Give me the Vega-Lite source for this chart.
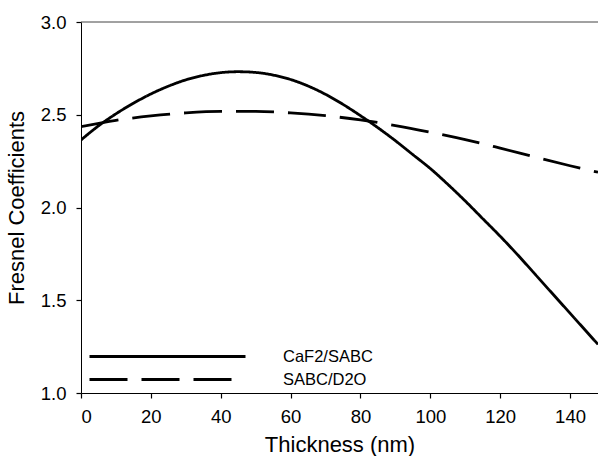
{
  "$schema": "https://vega.github.io/schema/vega-lite/v6.json",
  "width": 517,
  "height": 371,
  "autosize": {"type": "none"},
  "padding": {"left": 81, "top": 22, "right": 0, "bottom": 63},
  "config": {
    "font": "Liberation Sans",
    "view": {"stroke": null},
    "axis": {
      "grid": false,
      "ticks": true,
      "domainColor": "#000000",
      "domainWidth": 1,
      "tickColor": "#000000",
      "tickSize": 5,
      "tickWidth": 1.2,
      "labelColor": "#000000",
      "titleColor": "#000000",
      "labelFontSize": 18.5,
      "titleFontSize": 22,
      "titleFontWeight": "normal",
      "labelFont": "Liberation Sans",
      "titleFont": "Liberation Sans"
    }
  },
  "layer": [
    {
      "data": {"values": [{"top": 3.0}]},
      "mark": {"type": "rule", "color": "#444444", "strokeWidth": 1},
      "encoding": {"y": {"field": "top", "type": "quantitative", "scale": {"domain": [1, 3]}}}
    },
    {
      "data": {
        "values": [
          {"thickness": 0, "fresnel": 2.364, "series": "CaF2/SABC"},
          {"thickness": 5, "fresnel": 2.44, "series": "CaF2/SABC"},
          {"thickness": 10, "fresnel": 2.505, "series": "CaF2/SABC"},
          {"thickness": 15, "fresnel": 2.562, "series": "CaF2/SABC"},
          {"thickness": 20, "fresnel": 2.612, "series": "CaF2/SABC"},
          {"thickness": 25, "fresnel": 2.654, "series": "CaF2/SABC"},
          {"thickness": 30, "fresnel": 2.688, "series": "CaF2/SABC"},
          {"thickness": 35, "fresnel": 2.712, "series": "CaF2/SABC"},
          {"thickness": 40, "fresnel": 2.727, "series": "CaF2/SABC"},
          {"thickness": 45, "fresnel": 2.732, "series": "CaF2/SABC"},
          {"thickness": 50, "fresnel": 2.728, "series": "CaF2/SABC"},
          {"thickness": 55, "fresnel": 2.714, "series": "CaF2/SABC"},
          {"thickness": 60, "fresnel": 2.69, "series": "CaF2/SABC"},
          {"thickness": 65, "fresnel": 2.655, "series": "CaF2/SABC"},
          {"thickness": 70, "fresnel": 2.61, "series": "CaF2/SABC"},
          {"thickness": 75, "fresnel": 2.556, "series": "CaF2/SABC"},
          {"thickness": 80, "fresnel": 2.495, "series": "CaF2/SABC"},
          {"thickness": 85, "fresnel": 2.43, "series": "CaF2/SABC"},
          {"thickness": 90, "fresnel": 2.36, "series": "CaF2/SABC"},
          {"thickness": 95, "fresnel": 2.285, "series": "CaF2/SABC"},
          {"thickness": 100, "fresnel": 2.21, "series": "CaF2/SABC"},
          {"thickness": 105, "fresnel": 2.125, "series": "CaF2/SABC"},
          {"thickness": 110, "fresnel": 2.035, "series": "CaF2/SABC"},
          {"thickness": 115, "fresnel": 1.94, "series": "CaF2/SABC"},
          {"thickness": 120, "fresnel": 1.845, "series": "CaF2/SABC"},
          {"thickness": 125, "fresnel": 1.745, "series": "CaF2/SABC"},
          {"thickness": 130, "fresnel": 1.64, "series": "CaF2/SABC"},
          {"thickness": 135, "fresnel": 1.535, "series": "CaF2/SABC"},
          {"thickness": 140, "fresnel": 1.43, "series": "CaF2/SABC"},
          {"thickness": 145, "fresnel": 1.325, "series": "CaF2/SABC"},
          {"thickness": 148, "fresnel": 1.262, "series": "CaF2/SABC"},
          {"thickness": 0, "fresnel": 2.436, "series": "SABC/D2O"},
          {"thickness": 10, "fresnel": 2.47, "series": "SABC/D2O"},
          {"thickness": 20, "fresnel": 2.494, "series": "SABC/D2O"},
          {"thickness": 30, "fresnel": 2.51, "series": "SABC/D2O"},
          {"thickness": 40, "fresnel": 2.518, "series": "SABC/D2O"},
          {"thickness": 50, "fresnel": 2.518, "series": "SABC/D2O"},
          {"thickness": 60, "fresnel": 2.51, "series": "SABC/D2O"},
          {"thickness": 70, "fresnel": 2.495, "series": "SABC/D2O"},
          {"thickness": 80, "fresnel": 2.472, "series": "SABC/D2O"},
          {"thickness": 90, "fresnel": 2.442, "series": "SABC/D2O"},
          {"thickness": 100, "fresnel": 2.406, "series": "SABC/D2O"},
          {"thickness": 110, "fresnel": 2.366, "series": "SABC/D2O"},
          {"thickness": 120, "fresnel": 2.32, "series": "SABC/D2O"},
          {"thickness": 130, "fresnel": 2.272, "series": "SABC/D2O"},
          {"thickness": 140, "fresnel": 2.225, "series": "SABC/D2O"},
          {"thickness": 148, "fresnel": 2.19, "series": "SABC/D2O"}
        ]
      },
      "mark": {"type": "line", "color": "#000000", "strokeWidth": 2.8, "interpolate": "monotone", "clip": true},
      "encoding": {
        "x": {
          "field": "thickness",
          "type": "quantitative",
          "title": "Thickness (nm)",
          "scale": {"domain": [0, 148], "nice": false},
          "axis": {"values": [0, 20, 40, 60, 80, 100, 120, 140], "tickSize": 5, "tickWidth": 1.2, "labelPadding": 9, "titlePadding": 9}
        },
        "y": {
          "field": "fresnel",
          "type": "quantitative",
          "title": "Fresnel Coefficients",
          "scale": {"domain": [1, 3], "nice": false},
          "axis": {"values": [1, 1.5, 2, 2.5, 3], "format": ".1f", "tickSize": 5, "tickWidth": 1.2, "labelPadding": 10, "titlePadding": 12}
        },
        "strokeDash": {
          "field": "series",
          "type": "nominal",
          "scale": {"domain": ["CaF2/SABC", "SABC/D2O"], "range": [[1, 0], [38, 14]]},
          "legend": {
            "title": null,
            "orient": "none",
            "legendX": 72,
            "legendY": 320,
            "symbolType": "M-6,0H6",
            "symbolSize": 676,
            "symbolStrokeWidth": 2.8,
            "symbolStrokeColor": "#000000",
            "labelOffset": 101,
            "labelFontSize": 16.5,
            "labelColor": "#000000",
            "rowPadding": 0
          }
        }
      }
    }
  ]
}
